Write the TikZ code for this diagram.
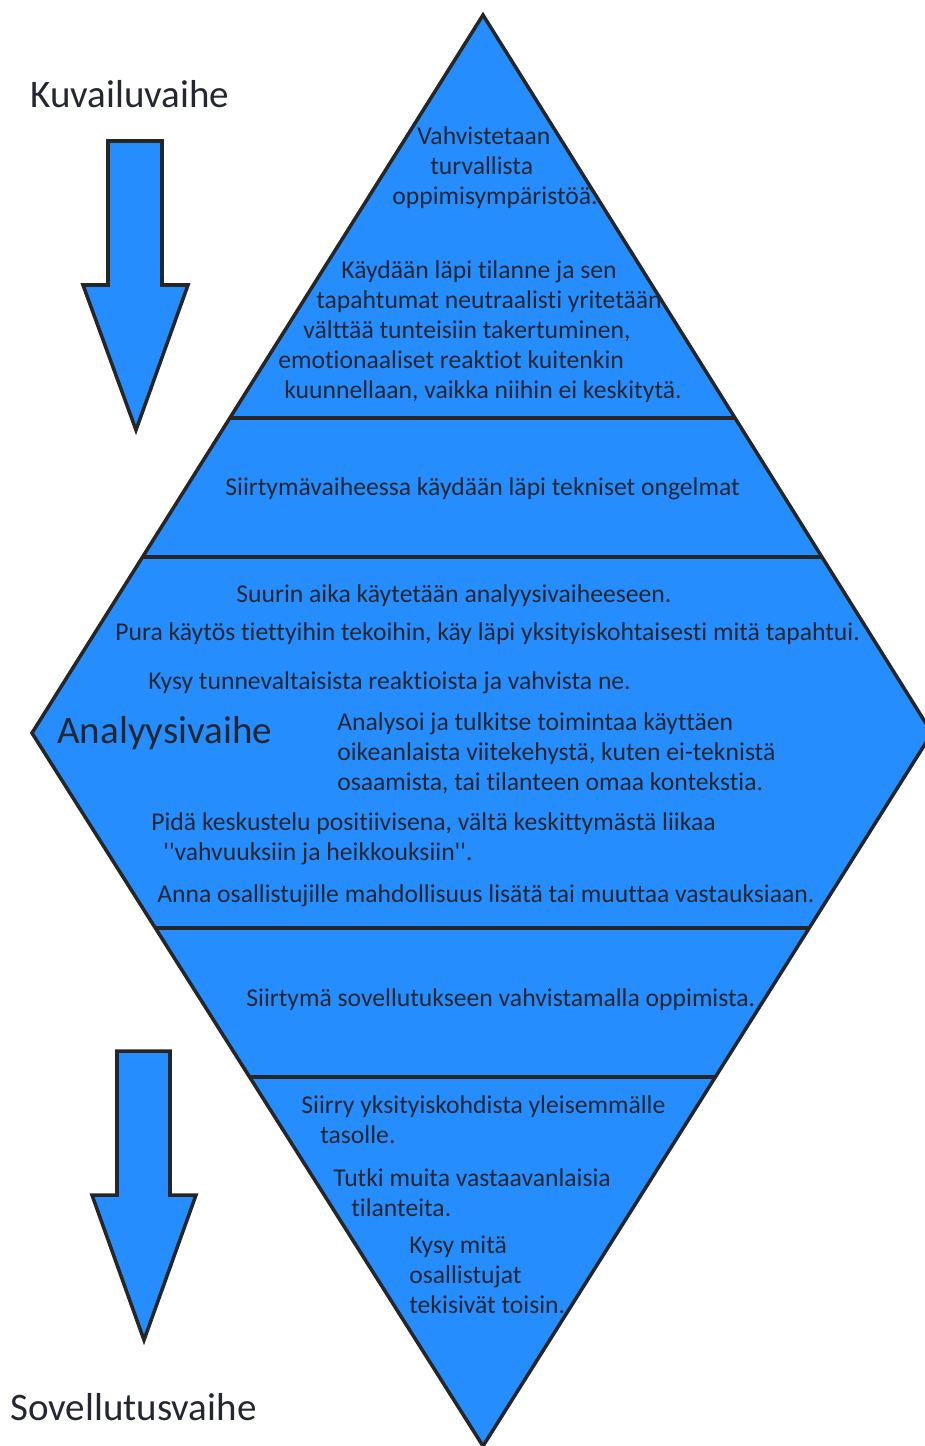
\documentclass[tikz,border=0pt]{standalone}
\usepackage{fontspec}
\setmainfont{Carlito}[Ligatures={NoCommon,TeXOff}]
\usetikzlibrary{calc}
\definecolor{phasefill}{RGB}{38,141,255}
\definecolor{edge}{RGB}{38,38,38}
\definecolor{ink}{RGB}{36,38,50}
\tikzset{
  shapeline/.style={draw=edge, line width=2pt, line join=miter},
  band/.style={shapeline, fill=phasefill},
  txt/.style={inner sep=0pt, text=ink, anchor=base west,
    font=\fontsize{14.6pt}{17pt}\selectfont},
  bigtxt/.style={inner sep=0pt, text=ink, anchor=base west,
    font=\fontsize{22.2pt}{26pt}\selectfont},
}
\begin{document}
\begin{tikzpicture}[x=0.02cm, y=-0.02cm]
\useasboundingbox (0,0) rectangle (925,1446);

% diamond corners
\coordinate (T) at (483,15);
\coordinate (L) at (32,733);
\coordinate (R) at (932,733);
\coordinate (B) at (483,1446);

% band dividers on the diamond edges
\coordinate (d1l) at ($(T)!0.5613!(L)$);
\coordinate (d1r) at ($(T)!0.5613!(R)$);
\coordinate (d2l) at ($(T)!0.7549!(L)$);
\coordinate (d2r) at ($(T)!0.7549!(R)$);
\coordinate (d3l) at ($(L)!0.2735!(B)$);
\coordinate (d3r) at ($(R)!0.2735!(B)$);
\coordinate (d4l) at ($(L)!0.4825!(B)$);
\coordinate (d4r) at ($(R)!0.4825!(B)$);

\begin{scope}
  \clip (0,0) rectangle (925,1446);
  \path[band] (T) -- (R) -- (B) -- (L) -- cycle;
  \draw[shapeline] (d1l) -- (d1r);
  \draw[shapeline] (d2l) -- (d2r);
  \draw[shapeline] (d3l) -- (d3r);
  \draw[shapeline] (d4l) -- (d4r);
\end{scope}

% down arrows
\path[band] (108,141) -- (162,141) -- (162,285) -- (188,285) -- (136,430)
  -- (83,285) -- (108,285) -- cycle;
\path[band] (117,1051) -- (170,1051) -- (170,1195) -- (196,1195) -- (144,1340)
  -- (92,1195) -- (117,1195) -- cycle;

% phase labels
\node[bigtxt] (kuv) at (30,108) {Kuvailuvaihe};
\node[bigtxt] (sov) at (10,1420) {Sovellutusvaihe};
\node[bigtxt] (ana) at (57,743) {Analyysivaihe};

% description band
\node[txt] (t1) at (417,145) {Vahvistetaan};
\node[txt] (t2) at (430,175) {turvallista};
\node[txt] (t3) at (392,205) {oppimisympäristöä.};
\node[txt] (t4) at (341,278) {Käydään läpi tilanne ja sen};
\node[txt] (t5) at (316,308) {tapahtumat neutraalisti yritetään};
\node[txt] (t6) at (303,338) {välttää tunteisiin takertuminen,};
\node[txt] (t7) at (278,368) {emotionaaliset reaktiot kuitenkin};
\node[txt] (t8) at (284,398) {kuunnellaan, vaikka niihin ei keskitytä.};

% first transition
\node[txt] (s1) at (225,495) {Siirtymävaiheessa käydään läpi tekniset ongelmat};

% analysis band
\node[txt] (a1) at (236,602) {Suurin aika käytetään analyysivaiheeseen.};
\node[txt] (a2) at (115,640) {Pura käytös tiettyihin tekoihin, käy läpi yksityiskohtaisesti mitä tapahtui.};
\node[txt] (a3) at (148,689) {Kysy tunnevaltaisista reaktioista ja vahvista ne.};
\node[txt] (a4) at (337,730) {Analysoi ja tulkitse toimintaa käyttäen};
\node[txt] (a5) at (337,760) {oikeanlaista viitekehystä, kuten ei-teknistä};
\node[txt] (a6) at (337,790) {osaamista, tai tilanteen omaa kontekstia.};
\node[txt] (a7) at (151,830) {Pidä keskustelu positiivisena, vältä keskittymästä liikaa};
\node[txt] (a8) at (163,860) {''vahvuuksiin ja heikkouksiin''.};
\node[txt] (a9) at (157,902) {Anna osallistujille mahdollisuus lisätä tai muuttaa vastauksiaan.};

% second transition
\node[txt] (s2) at (246,1006) {Siirtymä sovellutukseen vahvistamalla oppimista.};

% application band
\node[txt] (b1) at (301,1113) {Siirry yksityiskohdista yleisemmälle};
\node[txt] (b2) at (320,1143) {tasolle.};
\node[txt] (b3) at (333,1186) {Tutki muita vastaavanlaisia};
\node[txt] (b4) at (351,1216) {tilanteita.};
\node[txt] (b5) at (409,1253) {Kysy mitä};
\node[txt] (b6) at (409,1283) {osallistujat};
\node[txt] (b7) at (409,1313) {tekisivät toisin.};
\end{tikzpicture}
\end{document}
